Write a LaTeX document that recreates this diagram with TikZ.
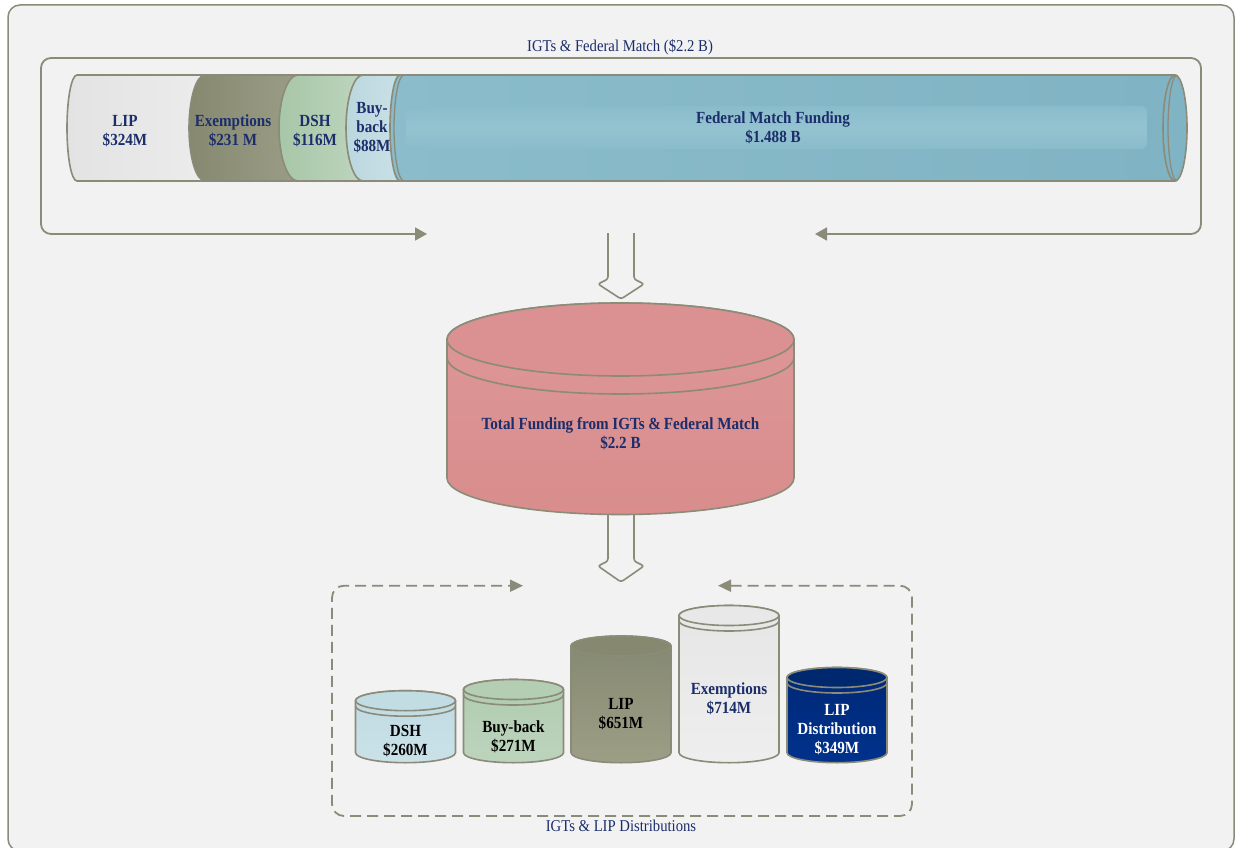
\documentclass[tikz,border=0pt]{standalone}
\usepackage{fontspec}
\setmainfont{Liberation Serif}[FakeStretch=0.89]
\usetikzlibrary{arrows.meta}
\definecolor{edge}{HTML}{8A8B78}
\definecolor{navy}{HTML}{1B2D6B}
\definecolor{bgc}{HTML}{F2F2F2}
\definecolor{lipA}{HTML}{E3E3E3}\definecolor{lipB}{HTML}{ECECEC}
\definecolor{exA}{HTML}{868970}\definecolor{exB}{HTML}{9C9E87}
\definecolor{dshA}{HTML}{A8C6A8}\definecolor{dshB}{HTML}{BED6BE}
\definecolor{bbA}{HTML}{BBD7DE}\definecolor{bbB}{HTML}{CAE2E8}
\definecolor{fedA}{HTML}{8ABCCB}\definecolor{fedB}{HTML}{80B3C3}
\newcommand{\hseg}[5]{%
  \path[left color=#4, right color=#5] (#1,75) arc[start angle=270,end angle=90,x radius=#2,y radius=53] -- (#3,181) -- (#3,75) -- cycle;
  \draw[edge,line width=1.6pt] (#3,75) -- (#1,75) arc[start angle=270,end angle=90,x radius=#2,y radius=53] -- (#3,181);
}
\newcommand{\vcyl}[8]{%
  \path[#7,draw=edge,line width=1.6pt] (#1-#2,#3) -- (#1-#2,#4) arc[start angle=180,end angle=0,x radius=#2,y radius=#5] -- (#1+#2,#3) arc[start angle=0,end angle=-180,x radius=#2,y radius=#5] -- cycle;
  \draw[edge,line width=1.6pt] (#1-#2,#3+#6) arc[start angle=180,end angle=0,x radius=#2,y radius=#5];
  \filldraw[fill=#8,draw=edge,line width=1.6pt] (#1,#3) ellipse[x radius=#2,y radius=#5];
}
\begin{document}
\begin{tikzpicture}[x=1pt,y=-1pt,
  bt/.style={font=\fontsize{17}{19}\selectfont\bfseries, align=center, inner sep=0pt, text=navy},
  lab/.style={font=\fontsize{16.5}{19}\selectfont, text=navy, inner sep=0pt},
  hollow/.style={draw=edge, line width=1.6pt, rounded corners=2.5pt}]
\useasboundingbox (0,0) rectangle (1235,848);
\clip (0,0) rectangle (1235,848);
\fill[white] (0,0) rectangle (1235,848);
\filldraw[fill=bgc, draw=edge, line width=1.5pt, rounded corners=12pt] (8,5) rectangle (1234,851);

% top frame
\coordinate (tfR) at (815,234);
\coordinate (tfL) at (427,234);
\draw[edge, line width=1.8pt, rounded corners=10pt, {Triangle[length=12pt,width=13pt]}-{Triangle[length=12pt,width=13pt]}]
  (tfR) -- (1201,234) -- (1201,58) -- (41,58) -- (41,234) -- (tfL);
\node[lab] (toplab) at (620,47) {IGTs \& Federal Match (\$2.2 B)};

% top horizontal segments
\hseg{77}{10}{212}{lipA}{lipB}
\hseg{205}{16}{305}{exA}{exB}
\hseg{298}{19}{368}{dshA}{dshB}
\hseg{363}{17}{406}{bbA}{bbB}
\hseg{400}{10}{1175}{fedA}{fedB}
\path[top color={rgb,255:red,137;green,188;blue,203}, bottom color={rgb,255:red,137;green,188;blue,203}, middle color={rgb,255:red,148;green,195;blue,208}, rounded corners=6pt] (406,106) rectangle (1147,149);
\draw[edge,line width=1.3pt] (404,75) arc[start angle=270,end angle=90,x radius=10,y radius=53];
\filldraw[fill={rgb,255:red,128;green,180;blue,196}, draw=edge, line width=1.6pt] (1175,128) ellipse[x radius=12,y radius=53];
\draw[edge,line width=1.3pt] (1177,75) arc[start angle=270,end angle=90,x radius=9,y radius=53];

\node[bt] (tLIP) at (125,131) {LIP\\\$324M};
\node[bt] (tEx) at (233,131) {Exemptions\\\$231 M};
\node[bt] (tDSH) at (315,131) {DSH\\\$116M};
\node[bt] (tBB) at (372,128) {Buy-\\back\\\$88M};
\node[bt] (tFed) at (773,127.5) {Federal Match Funding\\\$1.488 B};

% hollow arrow 1
\draw[hollow] (608,233) -- (608,279) -- (598,284) -- (621,299) -- (644,284) -- (634,279) -- (634,233);

% big cylinder
\vcyl{620.5}{173.5}{339.5}{478}{36.5}{18}{top color={rgb,255:red,221;green,151;blue,151}, middle color={rgb,255:red,227;green,164;blue,164}, bottom color={rgb,255:red,217;green,141;blue,141}}{{rgb,255:red,219;green,145;blue,145}}
\node[bt] (total) at (620.5,434) {Total Funding from IGTs \&\,Federal Match\\\$2.2 B};

% hollow arrow 2
\draw[hollow] (608,515) -- (608,561) -- (598,566) -- (621,582) -- (644,566) -- (634,561) -- (634,515);

% bottom dashed frame
\coordinate (bfR) at (718,585.7);
\coordinate (bfL) at (523,585.7);
\draw[edge, line width=1.8pt, dash pattern=on 11pt off 6pt, rounded corners=12pt, {Triangle[length=13pt,width=12pt]}-{Triangle[length=13pt,width=12pt]}]
  (bfR) -- (912,585.7) -- (912,816) -- (332,816) -- (332,585.7) -- (bfL);
\node[lab] (botlab) at (621,826) {IGTs \& LIP Distributions};

% bottom cylinders
\vcyl{405.5}{50}{700.7}{752.7}{10}{5.5}{top color={rgb,255:red,192;green,219;blue,227}, bottom color={rgb,255:red,202;green,225;blue,232}}{{rgb,255:red,194;green,220;blue,228}}
\vcyl{513.5}{50}{689.5}{752.7}{10}{5.5}{top color={rgb,255:red,176;green,203;blue,176}, bottom color={rgb,255:red,188;green,212;blue,188}}{{rgb,255:red,180;green,206;blue,180}}
\vcyl{621}{50}{646}{752.7}{10}{5.5}{top color={rgb,255:red,133;green,136;blue,112}, bottom color={rgb,255:red,156;green,158;blue,134}}{{rgb,255:red,134;green,137;blue,112}}
\vcyl{729}{50}{615.5}{752.7}{10}{5.5}{top color={rgb,255:red,230;green,230;blue,230}, bottom color={rgb,255:red,238;green,238;blue,238}}{{rgb,255:red,232;green,232;blue,232}}
\vcyl{837}{50}{677.5}{752.7}{10}{5.5}{top color={rgb,255:red,0;green,40;blue,118}, bottom color={rgb,255:red,0;green,50;blue,140}}{{rgb,255:red,0;green,40;blue,110}}

\node[bt, text=black] (bDSH) at (405.5,741.5) {DSH\\\$260M};
\node[bt, text=black] (bBB) at (513.5,736.5) {Buy-back\\\$271M};
\node[bt, text=black] (bLIP) at (621,714.5) {LIP\\\$651M};
\node[bt] (bEx) at (729,698.5) {Exemptions\\\$714M};
\node[bt, text=white] (bLD) at (837,729.5) {LIP\\Distribution\\\$349M};
\end{tikzpicture}
\end{document}
